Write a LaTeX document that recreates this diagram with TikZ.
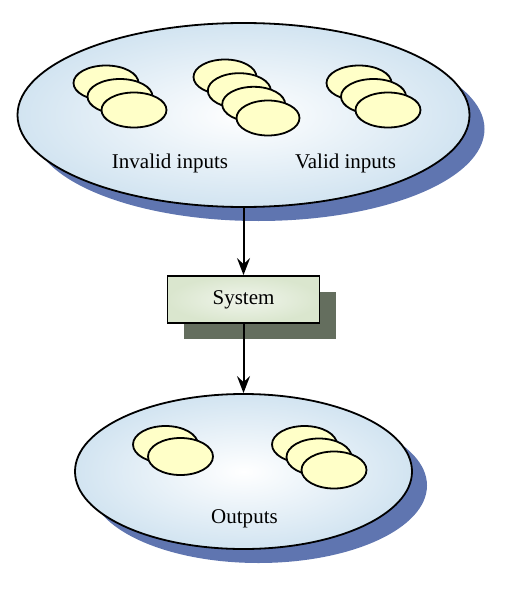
\documentclass[tikz,border=0pt]{standalone}
\usepackage{fontspec}
\setmainfont{Liberation Serif}
\usetikzlibrary{arrows.meta,shapes.geometric,shadows}
\definecolor{setfill}{RGB}{210,228,241}
\definecolor{setshadow}{RGB}{95,117,176}
\definecolor{itemfill}{RGB}{255,255,200}
\definecolor{boxfill}{RGB}{218,230,206}
\definecolor{boxshadow}{RGB}{100,110,94}
\begin{document}
\begin{tikzpicture}[x=1pt,y=-1pt,
  setell/.style={ellipse, draw=black, line width=1.8pt, inner color=white, outer color=setfill, inner sep=0pt,
    drop shadow={shadow xshift=15pt, shadow yshift=-14pt, fill=setshadow, opacity=1}},
  item/.style={ellipse, draw=black, line width=1.8pt, fill=itemfill, minimum width=65pt, minimum height=35pt, inner sep=0pt},
  lbl/.style={anchor=base, font=\fontsize{21}{25}\selectfont, inner sep=0pt},
  sysbox/.style={rectangle, draw=black, line width=1.8pt, inner color=white!60!boxfill, outer color=boxfill,
    minimum width=152pt, minimum height=47pt, font=\fontsize{21}{25}\selectfont,
    drop shadow={shadow xshift=16pt, shadow yshift=-16pt, fill=boxshadow, opacity=1}},
  flow/.style={line width=2pt, -{Stealth[length=17pt, width=13pt, inset=6pt]}}
]
\useasboundingbox (0,0) rectangle (505,591);

% input set
\node[setell, minimum width=452pt, minimum height=184pt] (inputs) at (243.5,115) {};
\node[item] (a1) at (106,83) {};
\node[item] (a2) at (120,96.5) {};
\node[item] (a3) at (134,110) {};
\node[item, minimum width=63pt] (b1) at (225,77) {};
\node[item, minimum width=63pt] (b2) at (239.3,90.7) {};
\node[item, minimum width=63pt] (b3) at (253.7,104.3) {};
\node[item, minimum width=63pt] (b4) at (268,118) {};
\node[item] (c1) at (359,83) {};
\node[item] (c2) at (373.5,96.5) {};
\node[item] (c3) at (388,110) {};
\node[lbl] (invalid) at (170,168) {Invalid inputs};
\node[lbl] (valid) at (345.5,168) {Valid inputs};

% system
\node[sysbox] (system) at (243.5,299.5) {System};

% output set
\node[setell, minimum width=337pt, minimum height=155pt] (outputs) at (243.5,471.5) {};
\node[item, minimum height=37pt] (d1) at (165.5,444.5) {};
\node[item, minimum height=37pt] (d2) at (180.5,456.5) {};
\node[item, minimum height=37pt] (e1) at (304.5,444.5) {};
\node[item, minimum height=37pt] (e2) at (319,457) {};
\node[item, minimum height=37pt] (e3) at (334,470) {};
\node[lbl] (outlbl) at (244.5,523) {Outputs};

% connectors
\draw[flow] (inputs.south) -- (system.north);
\draw[flow] (system.south) -- (outputs.north);
\end{tikzpicture}
\end{document}
